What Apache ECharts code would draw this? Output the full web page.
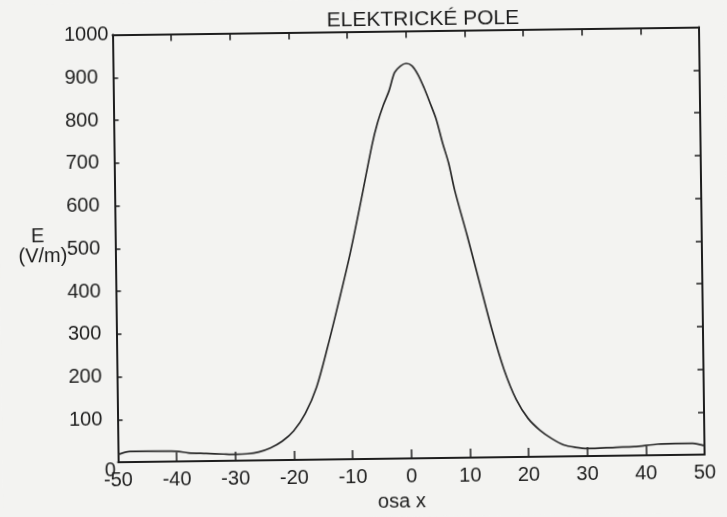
<!DOCTYPE html>
<html>
<head>
<meta charset="utf-8">
<script src="https://cdn.jsdelivr.net/npm/echarts@6/dist/echarts.min.js"></script>
<style>
html,body{margin:0;padding:0;background:#f3f3f1;overflow:hidden;}
#c{width:727px;height:517px;transform:rotate(-0.75deg);transform-origin:50% 50%;}
</style>
</head>
<body>
<div id="c"></div>
<script>
const xValues = [-50,-48,-45,-40,-38,-35,-32,-30,-28,-26,-24,-22,-20,-18,-16,-14,-12,-10,-8,-6,-5,-4,-3,-2,-1,0,1,2,3,4,5,6,7,8,10,12,14,16,18,20,22,24,26,28,30,35,38,42,45,48,50];
const eValues = [18,25,25,24,20,18,16,15,16,20,29,44,68,108,170,265,370,480,605,735,787,827,860,903,918,924,918,897,866,830,792,738,690,625,520,410,300,205,135,90,62,42,27,21,18,20,21,26,27,27,21];
const xTicks = [-50,-40,-30,-20,-10,0,10,20,30,40,50];
const yTicks = [0,100,200,300,400,500,600,700,800,900,1000];
const titleText = 'ELEKTRICKÉ POLE';
const xName = 'osa x';
const yNameTop = 'E';
const yNameBottom = '(V/m)';

const font = 'Liberation Sans, Arial, sans-serif';
const ink = '#1e1e1e';
const chart = echarts.init(document.getElementById('c'));
chart.setOption({
  backgroundColor: '#f3f3f1',
  animation: false,
  title: {
    text: titleText, left: 426, top: 10, textAlign: 'center', padding: 0,
    textStyle: {fontFamily: font, fontSize: 21, fontWeight: 'normal', color: ink}
  },
  graphic: [
    {type: 'text', x: 38, y: 232, style: {text: yNameTop, font: '20px ' + font, fill: ink, align: 'center', verticalAlign: 'middle'}},
    {type: 'text', x: 43, y: 252, style: {text: yNameBottom, font: '20px ' + font, fill: ink, align: 'center', verticalAlign: 'middle'}}
  ],
  grid: {left: 115.5, right: 25, top: 31.5, bottom: 52.5, show: false},
  xAxis: [{
    type: 'value', min: -50, max: 50, interval: 10, position: 'bottom',
    name: xName, nameLocation: 'middle', nameGap: 25,
    nameTextStyle: {fontFamily: font, fontSize: 20, color: ink, padding: [0, 20, 0, 0]},
    axisLine: {show: true, onZero: false, lineStyle: {color: ink, width: 2}},
    axisTick: {show: true, inside: true, length: 9, lineStyle: {color: ink, width: 1.5}},
    axisLabel: {fontFamily: font, fontSize: 20, color: ink, margin: 8,
      formatter: v => xTicks.includes(v) ? String(v) : ''},
    splitLine: {show: false}
  }, {
    type: 'value', min: -50, max: 50, interval: 10, position: 'top',
    axisLine: {show: true, onZero: false, lineStyle: {color: ink, width: 2}},
    axisTick: {show: true, inside: true, length: 7, lineStyle: {color: ink, width: 1.5}},
    axisLabel: {show: false}, splitLine: {show: false}
  }],
  yAxis: [{
    type: 'value', min: 0, max: 1000, interval: 100, position: 'left',
    axisLine: {show: true, onZero: false, lineStyle: {color: ink, width: 2}},
    axisTick: {show: true, inside: true, length: 5, lineStyle: {color: ink, width: 1.5}},
    axisLabel: {fontFamily: font, fontSize: 20, color: ink, margin: 48.5, align: 'left',
      formatter: v => !yTicks.includes(v) ? '' : (v === 0 ? '{z|0}' : String(v)),
      rich: {z: {fontFamily: font, fontSize: 20, color: ink, padding: [16, 0, 0, 35]}}},
    splitLine: {show: false}
  }, {
    type: 'value', min: 0, max: 1000, interval: 100, position: 'right',
    axisLine: {show: true, onZero: false, lineStyle: {color: ink, width: 2}},
    axisTick: {show: true, inside: true, length: 6, lineStyle: {color: ink, width: 1.5}},
    axisLabel: {show: false}, splitLine: {show: false}
  }],
  series: [{
    type: 'line', xAxisIndex: 0, yAxisIndex: 0,
    data: xValues.map((x, i) => [x, eValues[i]]),
    smooth: 0.3, showSymbol: false,
    lineStyle: {color: '#2a2a2a', width: 1.7}
  }]
});
</script>
</body>
</html>
